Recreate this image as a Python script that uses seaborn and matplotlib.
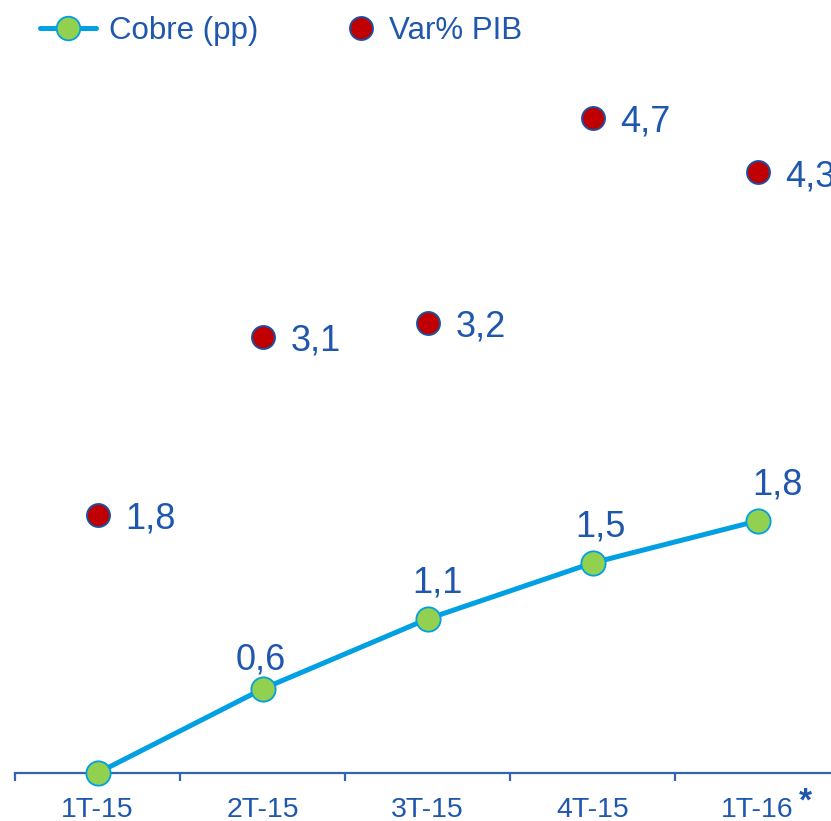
import numpy as np
import pandas as pd
import matplotlib
matplotlib.use("Agg")
import matplotlib.pyplot as plt
from matplotlib.lines import Line2D
from matplotlib.ticker import FixedLocator
import seaborn as sns

# Quarterly data
quarters = ["1T-15", "2T-15", "3T-15", "4T-15", "1T-16"]
cobre_pp = [0.0, 0.6, 1.1, 1.5, 1.8]
pib_var = [1.8, 3.1, 3.2, 4.7, 4.3]

TEXT = "#1F57AE"
AXIS = "#2F64B6"
LINE = "#00A0E3"
GREEN = "#92D050"
RED = "#C00000"
EDGE_RED = "#1F4E9E"

sns.set_theme(style="white")
plt.rcParams["font.family"] = ["Liberation Sans", "DejaVu Sans"]

W, H = 831, 821
fig = plt.figure(figsize=(W / 100, H / 100), dpi=100)
ax = fig.add_axes([15 / W, 48 / H, 825 / W, 773 / H])

df = pd.DataFrame({"pos": np.arange(len(quarters)), "cobre": cobre_pp, "pib": pib_var})

sns.lineplot(data=df, x="pos", y="cobre", ax=ax, sort=False, color=LINE, lw=3.6,
             marker="o", markersize=17.5, markerfacecolor=GREEN, markeredgecolor=LINE,
             markeredgewidth=1.3, clip_on=False, zorder=3)

ax2 = ax.twinx()
sns.scatterplot(data=df, x="pos", y="pib", ax=ax2, s=16.5 ** 2, color=RED,
                edgecolor=EDGE_RED, linewidth=1.4, clip_on=False, zorder=3)

ax.set_xlim(-0.5, 4.5)
ax.set_ylim(0, 5.52)
ax2.set_ylim(-0.0877, 5.559)

for a in (ax, ax2):
    a.set_xlabel("")
    a.set_ylabel("")
    a.set_yticks([])
    for s in a.spines.values():
        s.set_visible(False)
    a.grid(False)
    a.patch.set_alpha(0)
ax2.tick_params(axis="x", which="both", bottom=False, top=False,
                labelbottom=False, labeltop=False)

ax.spines["bottom"].set_visible(True)
ax.spines["bottom"].set_color(AXIS)
ax.spines["bottom"].set_linewidth(1.6)

# category boundaries as ticks, labels at category centres
ax.xaxis.set_major_locator(FixedLocator(np.arange(-0.5, 5.0, 1.0)))
ax.xaxis.set_minor_locator(FixedLocator(np.arange(len(quarters))))
ax.set_xticklabels([""] * 6, minor=False)
ax.set_xticklabels(quarters, minor=True)
ax.tick_params(axis="x", which="major", direction="out", length=6, width=1.6,
               color=AXIS, bottom=True)
ax.tick_params(axis="x", which="minor", length=0, pad=17, labelsize=20.5,
               labelcolor=TEXT, bottom=True)

# footnote mark on the last quarter
ax.annotate("*", xy=(4, 0), xycoords=("data", "axes fraction"),
            xytext=(34.5, -27.4), textcoords="offset points", ha="center", va="baseline",
            fontsize=24, fontweight="bold", color=TEXT, annotation_clip=False)

# value labels
cobre_dx = [0, -2, 10, 8, 20]
cobre_dy = [0, 14, 19, 19, 19]
for i, v in enumerate(cobre_pp):
    if v == 0:
        continue
    ax.annotate(f"{v:.1f}".replace(".", ","), xy=(i, v),
                xytext=(cobre_dx[i] * 0.72, cobre_dy[i]),
                textcoords="offset points", ha="center", va="baseline",
                fontsize=26, color=TEXT, annotation_clip=False)

for i, v in enumerate(pib_var):
    ax2.annotate(f"{v:.1f}".replace(".", ","), xy=(i, v), xytext=(20, -10),
                 textcoords="offset points", ha="left", va="baseline",
                 fontsize=26, color=TEXT, annotation_clip=False)

# legend
h1 = Line2D([], [], color=LINE, lw=3.6, marker="o", markersize=17,
            markerfacecolor=GREEN, markeredgecolor=LINE, markeredgewidth=1.3)
h2 = Line2D([], [], ls="none", marker="o", markersize=16.5,
            markerfacecolor=RED, markeredgecolor=EDGE_RED, markeredgewidth=1.4)
leg1 = fig.legend([h1], ["Cobre (pp)"], loc="center left",
                  bbox_to_anchor=(40 / W, 1 - 31 / H), frameon=False, fontsize=22.5,
                  handlelength=1.78, handletextpad=0.42, borderpad=0, borderaxespad=0)
leg2 = fig.legend([h2], ["Var% PIB"], loc="center left",
                  bbox_to_anchor=(345 / W, 1 - 31 / H), frameon=False, fontsize=22.5,
                  handlelength=1.0, handletextpad=0.41, borderpad=0, borderaxespad=0)
for leg in (leg1, leg2):
    for t in leg.get_texts():
        t.set_color(TEXT)

fig.savefig("out.png", dpi=100)
